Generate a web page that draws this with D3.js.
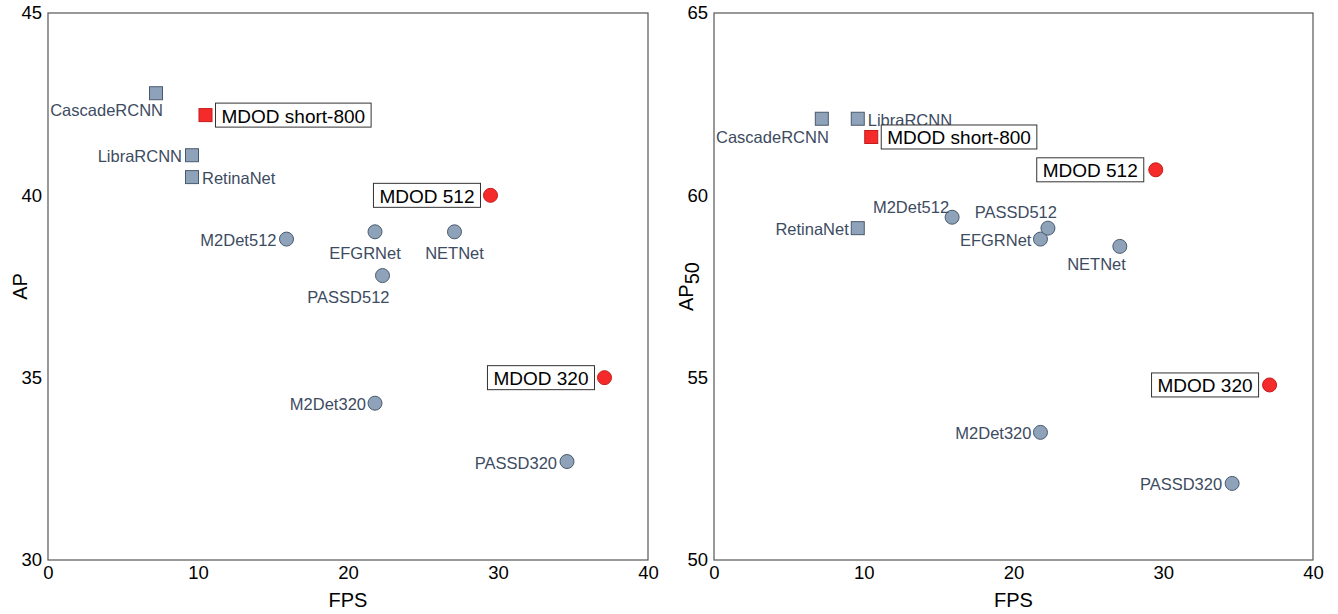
<!DOCTYPE html>
<html><head><meta charset="utf-8">
<script src="https://cdn.jsdelivr.net/npm/d3@7"></script>
<style>body{margin:0;background:#fff}svg{display:block;font-family:"Liberation Sans",Arial,sans-serif}</style>
</head><body><svg id="c" width="1338" height="614"></svg>
<script>
const models = ["CascadeRCNN","LibraRCNN","RetinaNet","MDOD short-800","M2Det512","EFGRNet","PASSD512","NETNet","MDOD 512","M2Det320","PASSD320","MDOD 320"];
const fps    = [7.2, 9.6, 9.6, 10.5, 15.9, 21.8, 22.3, 27.1, 29.5, 21.8, 34.6, 37.1];
const apVals = [42.8, 41.1, 40.5, 42.2, 38.8, 39.0, 37.8, 39.0, 40.0, 34.3, 32.7, 35.0];
const ap50Vals = [62.1, 62.1, 59.1, 61.6, 59.4, 58.8, 59.1, 58.6, 60.7, 53.5, 52.1, 54.8];
const ours   = [false,false,false,true,false,false,false,false,true,false,false,true];
const shapes = ["square","square","square","square","circle","circle","circle","circle","circle","circle","circle","circle"];
const xTicks = [0,10,20,30,40];
const apTicks = [30,35,40,45];
const ap50Ticks = [50,55,60,65];

// label layout (anchor, dx, dy) per panel
const leftLabels = [["end",7,16],["end",-10,0],["start",10,0],["boxR",10,0],["end",-10,0],["middle",-10,20],["end",7,20],["middle",0,20],["boxL",-10,0],["end",-9,0],["end",-10,0],["boxL",-10,0]];
const rightLabels = [["end",7,17],["start",10,0],["end",-9,0],["boxR",10,0],["end",-3,-11],["end",-9,0],["end",9,-17],["end",6,17],["boxL",-12,0],["end",-9,0],["end",-10,0],["boxL",-11,0]];

const svg = d3.select("#c");

function panel(x0, x1, yVals, yDomain, yTicks, labels, titleSub){
  const top = 13, bottom = 560;
  const x = d3.scaleLinear().domain([0,40]).range([x0,x1]);
  const y = d3.scaleLinear().domain(yDomain).range([bottom, top]);
  const g = svg.append("g");
  g.append("rect").attr("x",x0).attr("y",top).attr("width",x1-x0).attr("height",bottom-top)
    .attr("fill","none").attr("stroke","#555").attr("stroke-width",1.2);
  const ax = g.append("g").attr("transform",`translate(0,${bottom})`)
    .call(d3.axisBottom(x).tickValues(xTicks).tickSize(0).tickPadding(6));
  ax.select(".domain").remove();
  ax.selectAll("text").attr("font-size",18.5).attr("fill","#000").attr("font-family","Liberation Sans, Arial, sans-serif");
  const ay = g.append("g").attr("transform",`translate(${x0},0)`)
    .call(d3.axisLeft(y).tickValues(yTicks).tickSize(0).tickPadding(6));
  ay.select(".domain").remove();
  ay.selectAll("text").attr("font-size",18.5).attr("fill","#000").attr("font-family","Liberation Sans, Arial, sans-serif");

  g.append("text").attr("x",(x0+x1)/2).attr("y",607).attr("text-anchor","middle")
    .attr("font-size",20).text("FPS");
  const yt = g.append("text").attr("transform",`translate(${x0-21},${(top+bottom)/2}) rotate(-90)`)
    .attr("text-anchor","middle").attr("font-size",20);
  yt.append("tspan").text("AP");
  if(titleSub) yt.append("tspan").attr("dy",6).text(titleSub);

  models.forEach((m,i)=>{
    const px = x(fps[i]), py = y(yVals[i]);
    const fill = ours[i] ? "#f52a2a" : "#8ea3ba";
    const stroke = ours[i] ? "#c41a1a" : "#4a5a6d";
    if(shapes[i]==="square"){
      g.append("rect").attr("x",px-6.5).attr("y",py-6.5).attr("width",13).attr("height",13)
        .attr("fill",fill).attr("stroke",stroke).attr("stroke-width",1);
    } else {
      g.append("circle").attr("cx",px).attr("cy",py).attr("r",7)
        .attr("fill",fill).attr("stroke",stroke).attr("stroke-width",1);
    }
    const [anc,dx,dy] = labels[i];
    if(anc==="boxR"||anc==="boxL"){
      const t = g.append("text").attr("font-size",19).attr("fill","#000")
        .attr("dominant-baseline","central").text(m);
      const w = t.node().getComputedTextLength();
      const bw = w+12, bh = 24;
      const bx = anc==="boxR" ? px+dx : px+dx-bw;
      g.insert("rect", () => t.node()).attr("x",bx).attr("y",py-bh/2).attr("width",bw).attr("height",bh)
        .attr("fill","#fff").attr("stroke","#333").attr("stroke-width",1);
      t.attr("x",bx+6).attr("y",py+1);
    } else {
      g.append("text").attr("x",px+dx).attr("y",py+dy+1).attr("text-anchor",anc)
        .attr("dominant-baseline","central").attr("font-size",16.5).attr("fill","#3d4b5f").text(m);
    }
  });
}

panel(48, 648, apVals, [30,45], apTicks, leftLabels, null);
panel(714, 1313, ap50Vals, [50,65], ap50Ticks, rightLabels, "50");
</script></body></html>
